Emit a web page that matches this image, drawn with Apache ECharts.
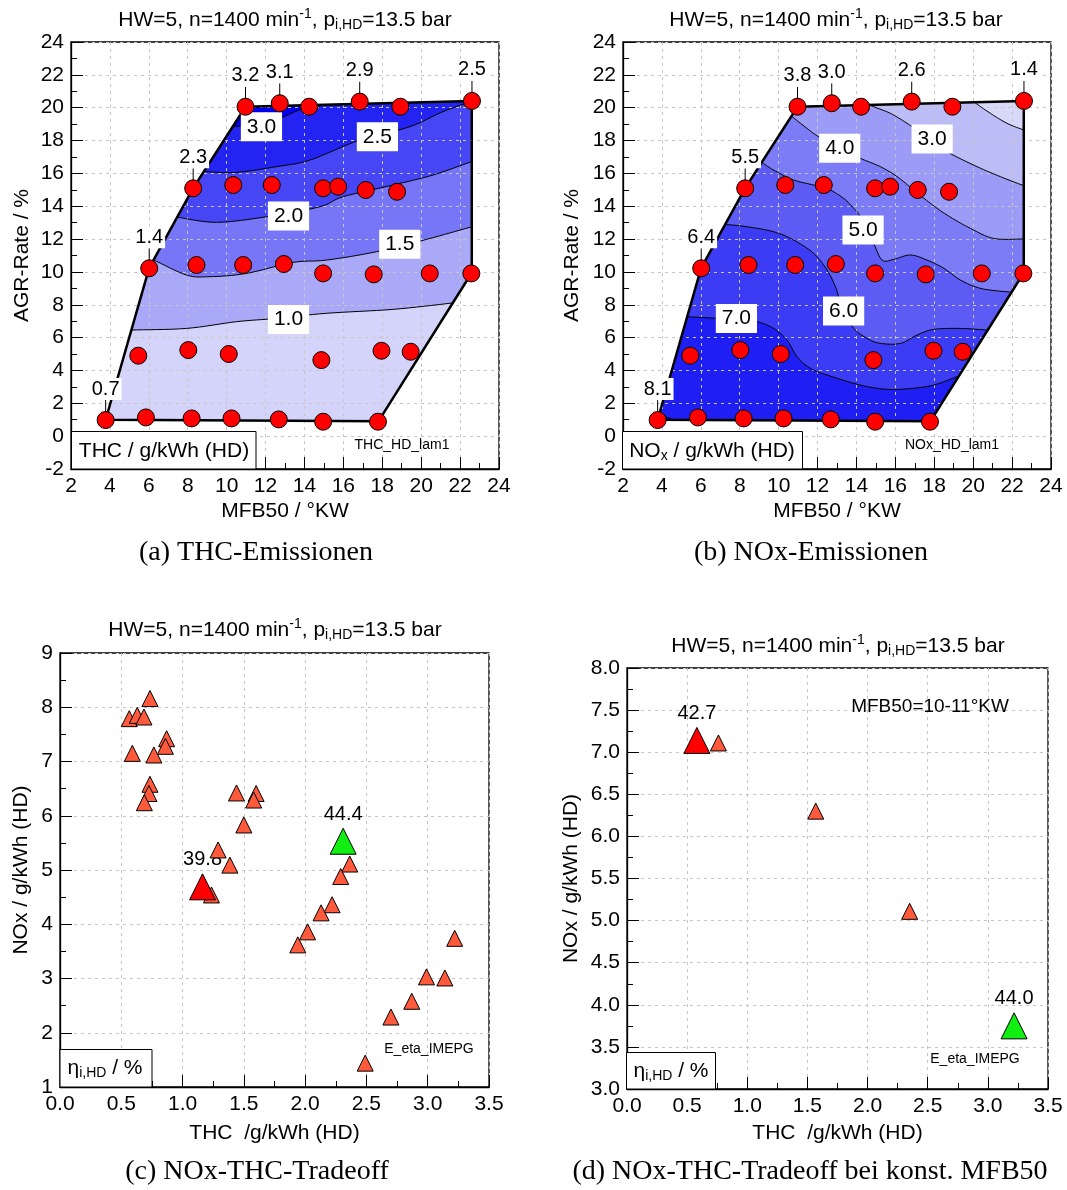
<!DOCTYPE html>
<html>
<head>
<meta charset="utf-8">
<script src="https://cdn.jsdelivr.net/npm/echarts@6/dist/echarts.min.js"></script>
<style>
  html, body { margin: 0; padding: 0; background: #fff; }
  #chart { width: 1067px; height: 1190px; }
</style>
</head>
<body>
<div id="chart"></div>
<script>
// ---------------- data ----------------
// operating points of the map (MFB50 in °KW, AGR rate in %)
const mfb50 = [10.97, 12.73, 14.24, 16.84, 18.93, 22.61,
               8.28, 10.34, 12.32, 14.96, 15.73, 17.15, 18.76,
               6.02, 8.45, 10.85, 12.94, 14.96, 17.56, 20.44, 22.58,
               5.46, 8.03, 10.11, 14.87, 17.96, 19.46,
               3.78, 5.85, 8.20, 10.25, 12.68, 14.96, 17.78];
const agrRate = [20.06, 20.27, 20.06, 20.37, 20.06, 20.41,
                 15.09, 15.29, 15.29, 15.09, 15.19, 14.99, 14.88,
                 10.22, 10.42, 10.42, 10.48, 9.91, 9.85, 9.91, 9.91,
                 4.90, 5.24, 5.00, 4.63, 5.20, 5.14,
                 0.98, 1.14, 1.08, 1.08, 1.02, 0.88, 0.88];
// points that carry a measured value
const labeledIdx = [27, 13, 6, 0, 1, 3, 5];
const thcAtPoint = ['0.7', '1.4', '2.3', '3.2', '3.1', '2.9', '2.5'];
const noxAtPoint = ['8.1', '6.4', '5.5', '3.8', '3.0', '2.6', '1.4'];

// outline of the measured map (MFB50, AGR)
const mapBoundary = [[3.78, 1.0], [17.8, 0.9], [22.6, 9.95], [22.6, 20.4],
                     [10.97, 20.06], [8.28, 15.1], [6.02, 10.25]];

// THC iso-lines (g/kWh)
const thcIso10 = [[4.6, 6.4], [5.12, 6.46], [7.94, 6.56], [10.51, 6.97], [12.56, 7.17], [15.13, 7.48], [18.55, 7.72], [21.47, 8.09], [22.5, 8.25]];
const thcIso15 = [[5.6, 10.8], [6.23, 10.72], [7.94, 9.81], [9.14, 9.71], [11.02, 9.91], [13.42, 10.58], [15.13, 10.72], [17.7, 11.23], [20.27, 11.98], [22.49, 12.71], [23.2, 12.9]];
const thcIso20 = [[7.0, 13.35], [7.51, 13.32], [9.48, 13.02], [12.05, 13.36], [14.79, 13.97], [15.99, 14.58], [18.55, 15.29], [20.61, 15.9], [22.49, 16.67], [23.2, 16.9]];
const thcIso25 = [[8.3, 16.1], [8.88, 16.1], [10.51, 16.06], [12.56, 16.41], [14.28, 16.81], [16.84, 18.03], [19.41, 18.84], [21.12, 19.76], [22.58, 20.37], [23.2, 20.6]];
const thcIso30 = [[9.8, 18.7], [10.34, 18.84], [11.5, 19.0], [12.82, 19.41], [13.76, 19.86], [14.79, 20.1], [15.4, 20.5]];
const thcLabelPos = [[11.79, 18.84], [17.75, 18.23], [13.18, 13.4], [18.9, 11.68], [13.18, 7.11]];
const thcLabelText = ['3.0', '2.5', '2.0', '1.5', '1.0'];

// NOx iso-lines (g/kWh)
const noxIso2 = [[19.7, 20.8], [20.03, 20.37], [20.88, 19.66], [21.74, 19.05], [22.51, 18.68], [23.2, 18.4]];
const noxIso3 = [[14.3, 20.6], [14.71, 20.16], [15.74, 19.66], [16.6, 19.05], [17.63, 18.23], [18.66, 17.32], [20.2, 16.41], [21.4, 15.8], [22.51, 15.29], [23.2, 15.0]];
const noxIso4 = [[10.2, 20.0], [10.6, 19.55], [11.46, 18.74], [12.06, 18.23], [13.1, 17.6], [14.2, 16.92], [15.23, 16.41], [16.09, 15.8], [16.94, 14.99], [17.8, 14.18], [18.66, 13.46], [19.86, 12.65], [21.05, 12.04], [22.51, 12.0], [23.2, 12.0]];
const noxIso5 = [[8.5, 16.9], [9.06, 16.71], [9.74, 16.2], [10.77, 15.6], [11.8, 15.29], [12.49, 15.09], [13.34, 14.48], [13.86, 13.87], [14.2, 13.36], [14.88, 11.74], [15.32, 10.72], [15.91, 10.76], [16.77, 11.03], [17.63, 10.72], [18.49, 10.22], [19.34, 9.51], [20.37, 9.0], [21.74, 8.79], [22.6, 8.75]];
const noxIso6 = [[6.8, 13.0], [7.26, 12.9], [8.38, 12.75], [9.74, 12.45], [10.77, 11.94], [11.8, 11.13], [12.49, 10.11], [12.92, 9.1], [13.09, 8.49], [13.4, 7.6], [13.86, 6.56], [14.55, 5.95], [15.23, 5.65], [16.26, 5.65], [17.12, 6.16], [17.97, 6.5], [19.34, 6.56], [20.71, 6.46], [21.5, 6.4]];
const noxIso7 = [[4.7, 7.3], [5.37, 7.27], [6.83, 7.17], [7.83, 7.1], [8.89, 6.97], [9.74, 6.56], [10.43, 5.85], [10.95, 4.83], [11.63, 4.13], [12.49, 3.72], [14.2, 3.11], [15.57, 2.85], [16.77, 2.9], [17.97, 3.11], [19.17, 3.62], [19.8, 3.9]];
const noxIso8 = [[3.5, 1.9], [3.85, 1.55], [4.2, 1.2], [4.52, 1.02], [4.8, 0.8]];
const noxLabelPos = [[17.89, 18.09], [13.14, 17.53], [14.34, 12.55], [13.34, 7.62], [7.83, 7.17]];
const noxLabelText = ['3.0', '4.0', '5.0', '6.0', '7.0'];

// NOx-THC trade-off, all points
const tradeThc = [0.565, 0.63, 0.685, 0.734, 0.59, 0.766, 0.87, 0.86, 0.734, 0.726, 0.688,
                  1.44, 1.60, 1.58, 1.50, 1.29, 1.386, 1.236, 2.364, 2.29, 2.22, 2.13,
                  2.02, 1.94, 3.22, 2.99, 3.14, 2.87, 2.70, 2.49];
const tradeNox = [7.79, 7.85, 7.82, 8.16, 7.15, 7.12, 7.42, 7.28, 6.58, 6.41, 6.24,
                  6.42, 6.41, 6.29, 5.83, 5.37, 5.09, 4.54, 5.11, 4.88, 4.36, 4.21,
                  3.86, 3.62, 3.74, 3.03, 3.01, 2.58, 2.29, 1.44];
const tradeMinEff = [1.163, 4.69, '39.8'];
const tradeMaxEff = [2.31, 5.53, '44.4'];

// NOx-THC trade-off at MFB50 = 10-11 °KW
const constThc = [0.76, 1.569, 2.35];
const constNox = [7.11, 6.30, 5.11];
const constMinEff = [0.581, 7.14, '42.7'];
const constMaxEff = [3.218, 3.75, '44.0'];

// band colours, lowest band first
const thcColors = ['#d4d4fa', '#a9a9f8', '#7676f6', '#4646f4', '#2424f2', '#0000ee'];
const noxColors = ['#d8d8f9', '#bcbcf7', '#9c9cf6', '#7c7cf6', '#5c5cf5', '#3c3cf4', '#1f1ff3', '#0000f0'];

// ---------------- helpers ----------------
const FONT = '"Liberation Sans", Arial, Helvetica, sans-serif';
const SERIF = '"Liberation Serif", "Times New Roman", serif';

// Catmull-Rom densification so iso-lines render as smooth curves
function smoothPts(pts, n) {
  n = n || 8;
  const out = [];
  for (let i = 0; i < pts.length - 1; i++) {
    const p0 = pts[Math.max(i - 1, 0)], p1 = pts[i], p2 = pts[i + 1], p3 = pts[Math.min(i + 2, pts.length - 1)];
    for (let k = 0; k < n; k++) {
      const t = k / n, t2 = t * t, t3 = t2 * t;
      const f = j => 0.5 * (2 * p1[j] + (-p0[j] + p2[j]) * t + (2 * p0[j] - 5 * p1[j] + 4 * p2[j] - p3[j]) * t2 + (-p0[j] + 3 * p1[j] - 3 * p2[j] + p3[j]) * t3);
      out.push([f(0), f(1)]);
    }
  }
  out.push(pts[pts.length - 1]);
  return out;
}

function segHit(a, b, c, d) {
  const r = [b[0] - a[0], b[1] - a[1]], s = [d[0] - c[0], d[1] - c[1]];
  const den = r[0] * s[1] - r[1] * s[0];
  if (Math.abs(den) < 1e-12) return null;
  const q = [c[0] - a[0], c[1] - a[1]];
  const t = (q[0] * s[1] - q[1] * s[0]) / den;
  const u = (q[0] * r[1] - q[1] * r[0]) / den;
  if (t < 0 || t > 1 || u < 0 || u > 1) return null;
  return { t: t, pt: [a[0] + t * r[0], a[1] + t * r[1]] };
}

// cut the convex map outline with an iso-line; returns the inner line part
// and the sub-polygon on the side that holds vertex `peak`
function splitRegion(B, L, peak) {
  const n = B.length, hits = [];
  for (let i = 0; i < L.length - 1; i++) {
    for (let e = 0; e < n; e++) {
      const h = segHit(L[i], L[i + 1], B[e], B[(e + 1) % n]);
      if (h) hits.push({ s: i + h.t, seg: i, edge: e, pt: h.pt });
    }
  }
  if (hits.length < 2) return null;
  hits.sort((p, q) => p.s - q.s);
  const E = hits[0], X = hits[hits.length - 1];
  const inner = [E.pt];
  for (let k = E.seg + 1; k <= X.seg; k++) inner.push(L[k]);
  inner.push(X.pt);
  const side1 = [];
  let k = (X.edge + 1) % n;
  while (true) { side1.push(k); if (k === E.edge) break; k = (k + 1) % n; }
  let verts;
  if (side1.indexOf(peak) >= 0) {
    verts = side1;
  } else {
    verts = [];
    k = X.edge;
    while (true) { verts.push(k); if (k === (E.edge + 1) % n) break; k = (k - 1 + n) % n; }
  }
  return { inner: inner, poly: inner.concat(verts.map(v => B[v])) };
}

function regionFill(ax, lines, colors, peak) {
  return {
    type: 'custom', xAxisIndex: ax, yAxisIndex: ax, z: 1, silent: true,
    encode: { x: 0, y: 1 }, data: [mapBoundary[0]],
    renderItem: function (params, api) {
      const px = p => api.coord(p);
      const kids = [{ type: 'polygon', shape: { points: mapBoundary.map(px) }, style: { fill: colors[0], stroke: 'none' } }];
      lines.forEach(function (ln, i) {
        const r = splitRegion(mapBoundary, smoothPts(ln), peak);
        if (r) kids.push({ type: 'polygon', shape: { points: r.poly.map(px) }, style: { fill: colors[i + 1], stroke: 'none' } });
      });
      return { type: 'group', children: kids };
    }
  };
}

function regionLines(ax, lines, peak) {
  return {
    type: 'custom', xAxisIndex: ax, yAxisIndex: ax, z: 3, silent: true,
    encode: { x: 0, y: 1 }, data: [mapBoundary[0]],
    renderItem: function (params, api) {
      const px = p => api.coord(p);
      const kids = [];
      lines.forEach(function (ln) {
        const r = splitRegion(mapBoundary, smoothPts(ln), peak);
        if (r) kids.push({ type: 'polyline', shape: { points: r.inner.map(px) }, style: { fill: 'none', stroke: '#000', lineWidth: 1 } });
      });
      kids.push({ type: 'polygon', shape: { points: mapBoundary.map(px) }, style: { fill: 'none', stroke: '#000', lineWidth: 2.5, lineJoin: 'round' } });
      return { type: 'group', children: kids };
    }
  };
}

function textEl(x, y, text, size, extra) {
  return Object.assign({
    type: 'text', x: x, y: y,
    style: { text: text, fill: '#000', fontSize: size, fontFamily: FONT, align: 'center', verticalAlign: 'middle', textAlign: 'center', textVerticalAlign: 'middle' }
  }, extra || {});
}

function isoLabels(ax, pos, texts) {
  return {
    type: 'custom', xAxisIndex: ax, yAxisIndex: ax, z: 4, silent: true,
    encode: { x: 0, y: 1 }, data: pos,
    renderItem: function (params, api) {
      const c = api.coord([api.value(0), api.value(1)]);
      const t = textEl(c[0], c[1], texts[params.dataIndex], 21);
      t.style.backgroundColor = '#fff';
      t.style.padding = [4, 6];
      return t;
    }
  };
}

function pointLabels(ax, texts) {
  return {
    type: 'custom', xAxisIndex: ax, yAxisIndex: ax, z: 6, silent: true,
    encode: { x: 0, y: 1 }, data: labeledIdx.map(i => [mfb50[i], agrRate[i]]),
    renderItem: function (params, api) {
      const c = api.coord([api.value(0), api.value(1)]);
      const t = textEl(c[0], c[1] - 31, texts[params.dataIndex], 20);
      t.style.backgroundColor = '#fff';
      t.style.padding = [1, 2];
      return {
        type: 'group', children: [
          { type: 'line', shape: { x1: c[0], y1: c[1] - 8, x2: c[0], y2: c[1] - 20 }, style: { stroke: '#000', lineWidth: 1 } },
          t
        ]
      };
    }
  };
}

function effLabels(ax, pts) {
  return {
    type: 'custom', xAxisIndex: ax, yAxisIndex: ax, z: 3, silent: true,
    encode: { x: 0, y: 1 }, data: pts.map(p => [p[0], p[1]]),
    renderItem: function (params, api) {
      const c = api.coord([api.value(0), api.value(1)]);
      return textEl(c[0], c[1] - 27, pts[params.dataIndex][2], 20);
    }
  };
}

const mapPoints = ax => ({
  type: 'scatter', xAxisIndex: ax, yAxisIndex: ax, z: 5, silent: true,
  symbol: 'circle', symbolSize: 17,
  itemStyle: { color: '#ff0000', borderColor: '#000', borderWidth: 1, opacity: 1 },
  data: mfb50.map((x, i) => [x, agrRate[i]])
});

const triangles = (ax, data, color, size, z) => ({
  type: 'scatter', xAxisIndex: ax, yAxisIndex: ax, z: z, silent: true,
  symbol: 'triangle', symbolSize: size,
  itemStyle: { color: color, borderColor: '#000', borderWidth: 1, opacity: 1 },
  data: data
});

const baseAxis = {
  type: 'value', z: 2,
  axisLine: { show: true, onZero: false, lineStyle: { color: '#000', width: 1.3 } },
  axisTick: { show: true, inside: true, length: 12, lineStyle: { color: '#000', width: 1 } },
  minorTick: { show: true, splitNumber: 2, length: 6, lineStyle: { color: '#000', width: 1 } },
  splitLine: { show: true, lineStyle: { color: '#c6c6c6', width: 1, type: [3, 4] } },
  axisLabel: { color: '#000', fontSize: 21, fontFamily: FONT, margin: 7 },
  nameLocation: 'middle',
  nameTextStyle: { color: '#000', fontSize: 21, fontFamily: FONT }
};
const ax = o => Object.assign({}, baseAxis, o);
const fix1 = v => v.toFixed(1);

const gridStyle = { show: true, borderColor: '#000', borderWidth: 1.3, backgroundColor: 'transparent', containLabel: false };

const titleRich = {
  a: { fontSize: 21, fontFamily: FONT, fill: '#000' },
  p: { fontSize: 14, fontFamily: FONT, padding: [0, 0, 11, 0] },
  b: { fontSize: 14, fontFamily: FONT, padding: [10, 0, 0, 0] }
};
const titleText = '{a|HW=5, n=1400 min}{p|-1}{a|, p}{b|i,HD}{a|=13.5 bar}';
function richText(x, y, text, rich) {
  return { type: 'text', x: x, y: y, z: 10, silent: true,
    style: { text: text, rich: rich, fill: '#000', align: 'center', verticalAlign: 'middle', textAlign: 'center', textVerticalAlign: 'middle' } };
}
function box(x, y, w, h) {
  return { type: 'rect', z: 9, silent: true, shape: { x: x, y: y, width: w, height: h }, style: { fill: '#fff', stroke: '#000', lineWidth: 1 } };
}
const legendRich = {
  a: { fontSize: 21, fontFamily: FONT },
  b: { fontSize: 14, fontFamily: FONT, padding: [11, 0, 0, 0] }
};
const plain = (x, y, text, size) => Object.assign(textEl(x, y, text, size), { z: 10, silent: true });
const caption = (x, y, text) => {
  const t = plain(x, y, text, 28);
  t.style.fontFamily = SERIF;
  return t;
};

const chart = echarts.init(document.getElementById('chart'), null, { renderer: 'canvas' });
chart.setOption({
  animation: false,
  backgroundColor: '#fff',
  grid: [
    Object.assign({ left: 71, top: 42, width: 428, height: 427 }, gridStyle),
    Object.assign({ left: 623, top: 42, width: 428, height: 427 }, gridStyle),
    Object.assign({ left: 60, top: 653, width: 429, height: 434 }, gridStyle),
    Object.assign({ left: 627, top: 668, width: 421, height: 421 }, gridStyle)
  ],
  xAxis: [
    ax({ gridIndex: 0, min: 2, max: 24, interval: 2, name: 'MFB50 / °KW', nameGap: 32 }),
    ax({ gridIndex: 1, min: 2, max: 24, interval: 2, name: 'MFB50 / °KW', nameGap: 32 }),
    ax({ gridIndex: 2, min: 0, max: 3.5, interval: 0.5, name: 'THC  /g/kWh (HD)', nameGap: 36,
         axisLabel: Object.assign({}, baseAxis.axisLabel, { formatter: fix1 }) }),
    ax({ gridIndex: 3, min: 0, max: 3.5, interval: 0.5, name: 'THC  /g/kWh (HD)', nameGap: 34,
         axisLabel: Object.assign({}, baseAxis.axisLabel, { formatter: fix1 }) })
  ],
  yAxis: [
    ax({ gridIndex: 0, min: -2, max: 24, interval: 2, name: 'AGR-Rate / %', nameGap: 38 }),
    ax({ gridIndex: 1, min: -2, max: 24, interval: 2, name: 'AGR-Rate / %', nameGap: 40 }),
    ax({ gridIndex: 2, min: 1, max: 9, interval: 1, name: 'NOx / g/kWh (HD)', nameGap: 28 }),
    ax({ gridIndex: 3, min: 3, max: 8, interval: 0.5, name: 'NOx / g/kWh (HD)', nameGap: 45,
         axisLabel: Object.assign({}, baseAxis.axisLabel, { formatter: fix1 }) })
  ],
  series: [
    // (a) THC map
    regionFill(0, [thcIso10, thcIso15, thcIso20, thcIso25, thcIso30], thcColors, 4),
    regionLines(0, [thcIso10, thcIso15, thcIso20, thcIso25, thcIso30], 4),
    isoLabels(0, thcLabelPos, thcLabelText),
    mapPoints(0),
    pointLabels(0, thcAtPoint),
    // (b) NOx map
    regionFill(1, [noxIso2, noxIso3, noxIso4, noxIso5, noxIso6, noxIso7, noxIso8], noxColors, 0),
    regionLines(1, [noxIso2, noxIso3, noxIso4, noxIso5, noxIso6, noxIso7, noxIso8], 0),
    isoLabels(1, noxLabelPos, noxLabelText),
    mapPoints(1),
    pointLabels(1, noxAtPoint),
    // (c) trade-off
    triangles(2, tradeThc.map((x, i) => [x, tradeNox[i]]), '#ff5a3c', 16, 4),
    triangles(2, [[tradeMinEff[0], tradeMinEff[1]]], '#ff0000', 26, 5),
    triangles(2, [[tradeMaxEff[0], tradeMaxEff[1]]], '#11ee11', 26, 5),
    effLabels(2, [tradeMinEff, tradeMaxEff]),
    // (d) trade-off at constant MFB50
    triangles(3, constThc.map((x, i) => [x, constNox[i]]), '#ff5a3c', 16, 4),
    triangles(3, [[constMinEff[0], constMinEff[1]]], '#ff0000', 26, 5),
    triangles(3, [[constMaxEff[0], constMaxEff[1]]], '#11ee11', 26, 5),
    effLabels(3, [constMinEff, constMaxEff])
  ],
  graphic: [
    richText(285, 20, titleText, titleRich),
    richText(836, 20, titleText, titleRich),
    richText(275, 630, titleText, titleRich),
    richText(838, 646, titleText, titleRich),

    box(71.5, 431.5, 184.5, 37.5),
    plain(164, 451, 'THC / g/kWh (HD)', 21),
    box(622.5, 431.5, 180, 37.5),
    richText(712, 451, '{a|NO}{b|x}{a| / g/kWh (HD)}', legendRich),
    box(60, 1049.5, 92, 37.5),
    richText(105, 1068, '{a|η}{b|i,HD}{a| / %}', legendRich),
    box(626.5, 1052.5, 89, 36.5),
    richText(671, 1071, '{a|η}{b|i,HD}{a| / %}', legendRich),

    plain(402, 445, 'THC_HD_lam1', 14),
    plain(952, 445, 'NOx_HD_lam1', 14),
    plain(429, 1049, 'E_eta_IMEPG', 14),
    plain(975, 1059, 'E_eta_IMEPG', 14),
    plain(930, 707, 'MFB50=10-11°KW', 19),

    caption(256, 553, '(a) THC-Emissionen'),
    caption(811, 553, '(b) NOx-Emissionen'),
    caption(257, 1172, '(c) NOx-THC-Tradeoff'),
    caption(810, 1172, '(d) NOx-THC-Tradeoff bei konst. MFB50')
  ]
});
</script>
</body>
</html>
